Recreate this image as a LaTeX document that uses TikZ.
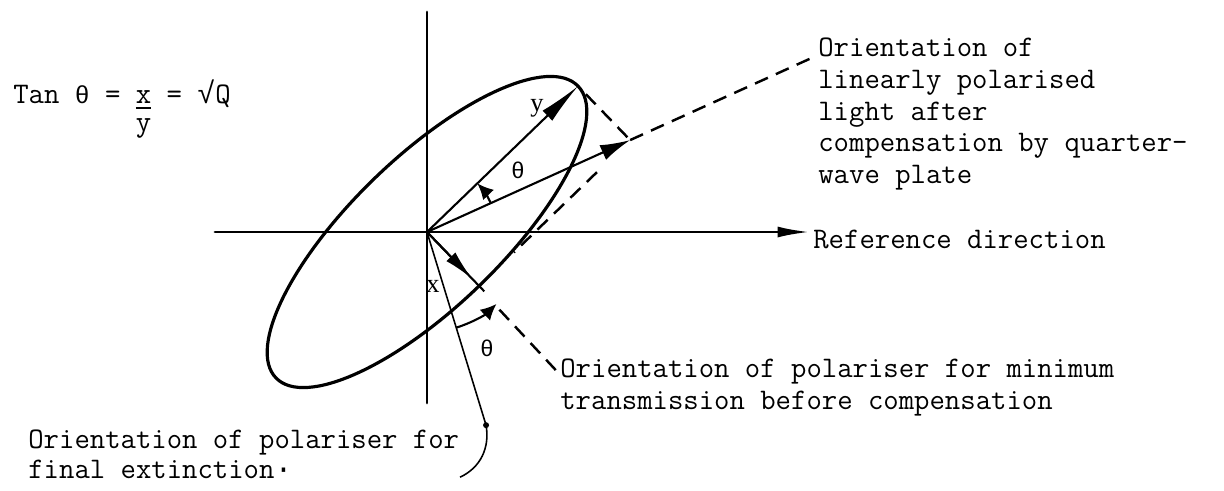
\documentclass[tikz,border=0pt]{standalone}
\usepackage{fontspec}
\newfontfamily\vecfont{Liberation Serif}
\newfontfamily\greekfont{Liberation Mono}
\setlength{\arrayrulewidth}{1pt}
\usetikzlibrary{arrows.meta,calc,positioning}

\begin{document}
\begin{tikzpicture}[
    axisline/.style={line width=1.6pt, line cap=round},
    vec/.style={line width=1.2pt, -{Latex[length=0.6cm,width=0.32cm]}},
    dashline/.style={line width=1.4pt, dash pattern=on 8pt off 5pt},
    polline/.style={line width=0.9pt},
    turn/.style={line width=1.2pt, -{Latex[length=0.32cm,width=0.3cm]}},
    note/.style={inner sep=0pt, align=left, font=\ttfamily\fontsize{17}{18}\selectfont},
    sym/.style={inner sep=0pt, font=\greekfont\fontsize{13}{15}\selectfont},
    comp/.style={inner sep=0pt, font=\vecfont\fontsize{15}{18}\selectfont}
]
\useasboundingbox (-8.54,-5.16) rectangle (15.94,4.64);

% Origin and vector ends
\coordinate (o) at (0,0);
\coordinate (ytip) at (44:4.2);
\coordinate (xtip) at (-46:1.5);
\coordinate (ctip) at ($(ytip)+(xtip)$);
\coordinate (cend) at ($(o)!1.9!(ctip)$);
\coordinate (ext) at (-73:4.04);
\coordinate (mend) at (-47:3.86);
\coordinate (mstart) at ($(o)!0.55!(mend)$);

% Axes
\coordinate (vtop) at (0,4.4);
\coordinate (vbot) at (0,-3.42);
\coordinate (hleft) at (-4.24,0);
\coordinate (hright) at (7.66,0);
\draw[axisline] (vtop) -- (vbot);
\draw[axisline, -{Latex[length=0.65cm,width=0.22cm]}] (hleft) -- (hright);

% Ellipse of polarisation
\draw[line width=1.8pt, rotate=44] (o) ellipse (4.2 and 1.5);

% Vectors
\draw[vec, -{Latex[length=0.85cm,width=0.28cm]}] (o) -- (ytip);
\draw[vec] (o) -- (ctip);
\draw[line width=1.2pt] (o) -- ($(o)!1.1!(xtip)$);
\draw[vec, -{Latex[length=0.6cm,width=0.25cm]}] (o) -- ($(o)!0.86!(xtip)$);

% Polariser for final extinction
\draw[polline] (o) -- (ext);
\fill (ext) circle (0.06);
\draw[polline] (ext) to[out=-80, in=25] ($(ext)+(-0.52,-1.04)$);

% Construction lines
\draw[dashline] ($(ytip)!0.15!(ctip)$) -- (ctip);
\draw[dashline] ($(ctip)!0.22!(xtip)$) -- ($(ctip)!0.77!(xtip)$);
\draw[dashline] (ctip) -- (cend);
\draw[dashline] (mstart) -- (mend);

% Angles
\draw[turn] (24.35:1.4) arc[start angle=24.35, end angle=44, radius=1.4];
\draw[turn] (-73:2) arc[start angle=-73, end angle=-46, radius=2];

% Labels
\node[comp] (ylbl) at (2.2,2.48) {y};
\node[comp] (xlbl) at (0.12,-1.08) {x};
\node[sym] (thtop) at (1.82,1.24) {θ};
\node[sym] (thbot) at (1.2,-2.32) {θ};

% Notes
\node[note, anchor=base west] (tanrule) at (-8.28,2.58) {Tan {\greekfont\fontsize{14}{18}\selectfont θ} = \begin{tabular}[t]{@{}c@{}}x\\[-3pt]\hline y\end{tabular} = {\greekfont √}Q};
\node[note, anchor=north west] (comptext) at (7.82,3.88) {Orientation of\\linearly polarised\\light after\\compensation by quarter-\\wave plate};
\node[note, right=0.06cm of hright, yshift=-0.15cm] (reftext) {Reference direction};
\node[note, anchor=north west] (mintext) at (2.66,-2.54) {Orientation of polariser for minimum\\transmission before compensation};
\node[note, anchor=north west, font=\ttfamily\fontsize{17}{17}\selectfont] (exttext) at (-7.98,-3.95) {Orientation of polariser for\\final extinction{\greekfont ·}};

\end{tikzpicture}
\end{document}
